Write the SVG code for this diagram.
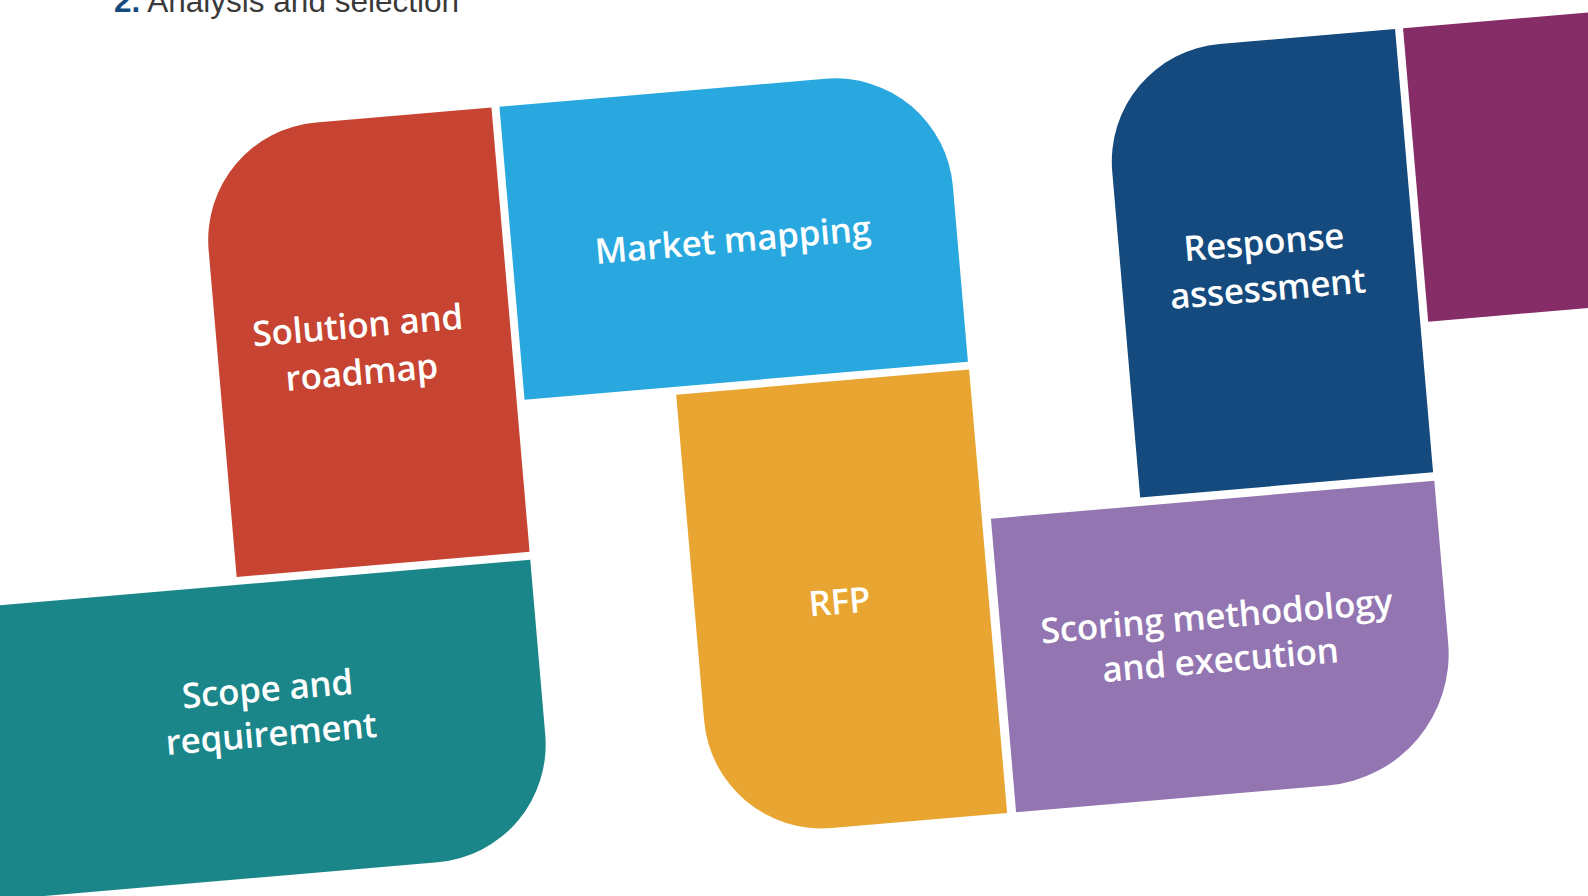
<svg xmlns="http://www.w3.org/2000/svg" width="1588" height="896" viewBox="0 0 1588 896">
<style>
.lbl{font-family:"Open Sans","Noto Sans",sans-serif;font-weight:600;font-size:35px;letter-spacing:-0.2px;fill:#fff;text-anchor:middle}
.title{font-family:"Liberation Sans",Arial,sans-serif;font-size:31.5px}
</style>
<rect width="1588" height="896" fill="#fff"/>
<text class="title" x="114" y="12"><tspan font-weight="bold" fill="#144A7D">2.</tspan><tspan fill="#3a3a3a"> Analysis and selection</tspan></text>
<g transform="rotate(-4.9)">
<g id="scope">
<path d="M-300,603 H480.5 V778.5 A118,118 0 0 1 362.5,896.5 H-300 Z" fill="#1B8689"/>
<text class="lbl" x="207.5" y="721.5">Scope and</text>
<text class="lbl" x="207.5" y="766.5">requirement</text>
</g>
<g id="solution">
<path d="M304.5,149 H480.5 V595 H186.5 V267 A118,118 0 0 1 304.5,149 Z" fill="#C64431"/>
<text class="lbl" x="328.5" y="367">Solution and</text>
<text class="lbl" x="328.5" y="414">roadmap</text>
</g>
<g id="market">
<path d="M488.5,149 H815.5 A118,118 0 0 1 933.5,267 V443 H488.5 Z" fill="#29A8E0"/>
<text class="lbl" x="709.5" y="314">Market mapping</text>
</g>
<g id="rfp">
<path d="M640,451 H934 V896 H758 A118,118 0 0 1 640,778 Z" fill="#E8A531"/>
<text class="lbl" x="785" y="683.5">RFP</text>
</g>
<g id="scoring">
<path d="M943,601.5 H1388 V764 A132,132 0 0 1 1256,896 H943 Z" fill="#9376B1"/>
<text class="lbl" x="1159.5" y="730">Scoring methodology</text>
<text class="lbl" x="1159.5" y="774">and execution</text>
</g>
<g id="response">
<path d="M1211.5,148 H1387.5 V593 H1093.5 V266 A118,118 0 0 1 1211.5,148 Z" fill="#144A7D"/>
<text class="lbl" x="1238.5" y="361.5">Response</text>
<text class="lbl" x="1238.5" y="408">assessment</text>
</g>
<g id="next">
<path d="M1395.5,148 H1900 V442.5 H1395.5 Z" fill="#862C66"/>
</g>
</g>
<g id="connectors"></g>
</svg>
